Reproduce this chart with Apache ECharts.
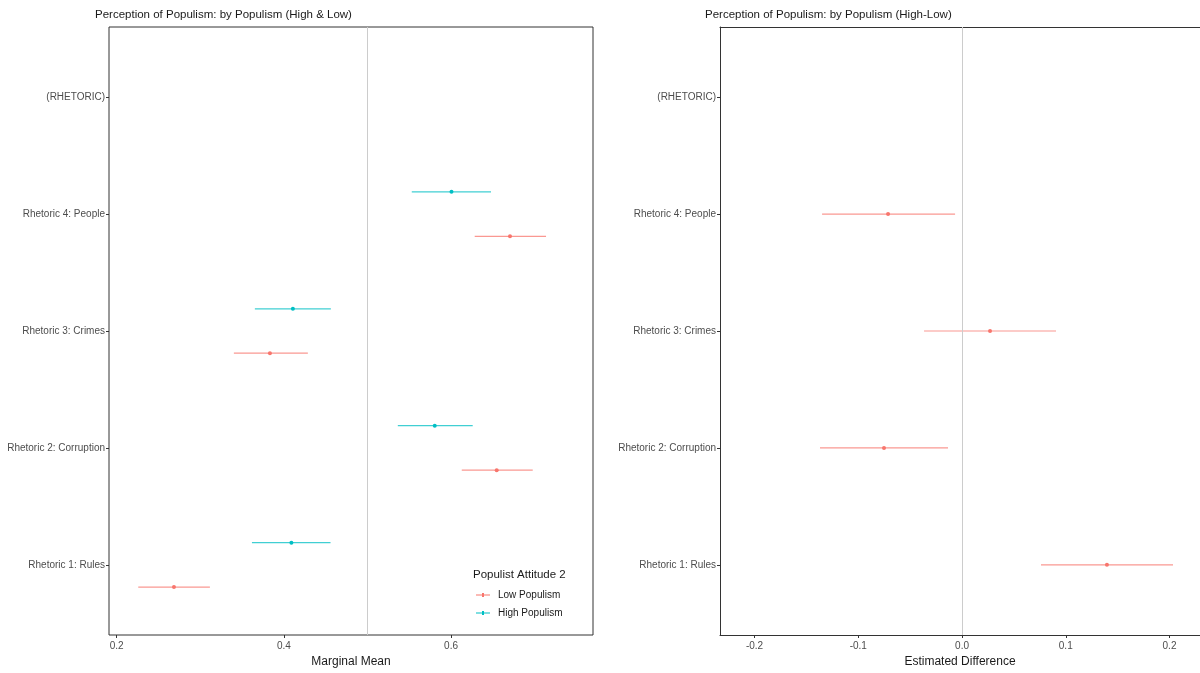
<!DOCTYPE html>
<html><head><meta charset="utf-8">
<script src="https://cdn.jsdelivr.net/npm/echarts@6/dist/echarts.min.js"></script>
<style>html,body{margin:0;padding:0;background:#fff}#c{width:1200px;height:673px}</style>
</head><body><div id="c"></div>
<script>
const categories = ['Rhetoric 1: Rules','Rhetoric 2: Corruption','Rhetoric 3: Crimes','Rhetoric 4: People','(RHETORIC)'];
// Left panel: marginal means
const lowEst  = [0.2685, 0.6546, 0.3833, 0.6705, null];
const lowLo   = [0.2258, 0.6128, 0.3402, 0.6283, null];
const lowHi   = [0.3115, 0.6977, 0.4287, 0.7136, null];
const highEst = [0.4090, 0.5805, 0.4108, 0.6005, null];
const highLo  = [0.3618, 0.5363, 0.3653, 0.5530, null];
const highHi  = [0.4558, 0.6259, 0.4562, 0.6478, null];
// Right panel: difference (High - Low)
const diffEst = [0.1397, -0.0752, 0.0270, -0.0713, null];
const diffLo  = [0.0761, -0.1369, -0.0366, -0.1349, null];
const diffHi  = [0.2034, -0.0135, 0.0906, -0.0067, null];
const leftTicks = [0.2, 0.4, 0.6];
const rightTicks = [-0.2, -0.1, 0.0, 0.1, 0.2];
const leftRef = 0.5, rightRef = 0;
const legendTitle = 'Populist Attitude 2';
const seriesNames = ['Low Populism','High Populism'];

const RED = '#F8766D', TEAL = '#00BFC4';
const dodge = 0.19;

function rows(est, lo, hi, off){
  const out = [];
  est.forEach((v,i)=>{ if(v!==null) out.push([v, lo[i], hi[i], i+1+off]); });
  return out;
}
function renderer(color){
  return function(params, api){
    const y = api.value(3);
    const p = api.coord([api.value(0), y]);
    const a = api.coord([api.value(1), y]);
    const b = api.coord([api.value(2), y]);
    return {type:'group', children:[
      {type:'line', shape:{x1:a[0],y1:a[1],x2:b[0],y2:b[1]}, style:{stroke:color, lineWidth:1.2, opacity:0.75}},
      {type:'circle', shape:{cx:p[0],cy:p[1],r:2}, style:{fill:color}}
    ]};
  };
}
const labelStyle = {color:'#4D4D4D', fontSize:10, fontFamily:'Liberation Sans'};
const borderLine = {show:true, onZero:false, lineStyle:{color:'#333', width:1}};
function yAx(gi, line){
  return {type:'value', gridIndex:gi, min:0.4, max:5.6,
    axisLine: line ? borderLine : {show:false, onZero:false}, splitLine:{show:false},
    axisTick:{show:true, length:3, lineStyle:{color:'#333'}, customValues:[1,2,3,4,5]},
    axisLabel:Object.assign({customValues:[1,2,3,4,5], margin:4, formatter:v=>categories[Math.round(v)-1]}, labelStyle)};
}
function xAx(gi, min, max, ticks, name, line){
  return {type:'value', gridIndex:gi, min:min, max:max, name:name, nameLocation:'middle', nameGap:21,
    nameTextStyle:{color:'#1a1a1a', fontSize:12, fontFamily:'Liberation Sans'},
    axisLine: line ? borderLine : {show:false, onZero:false}, splitLine:{show:false},
    axisTick:{show:true, length:3, lineStyle:{color:'#333'}, customValues:ticks},
    axisLabel:Object.assign({customValues:ticks, margin:6, formatter:v=>(gi===1? v.toFixed(1): String(+v.toFixed(1)))}, labelStyle)};
}
const titleStyle = {fontSize:11.5, fontWeight:'normal', color:'#1a1a1a', fontFamily:'Liberation Sans'};
const chart = echarts.init(document.getElementById('c'));
chart.setOption({
  animation:false,
  title:[
    {text:'Perception of Populism: by Populism (High & Low)', left:95, top:9, padding:0, textStyle:titleStyle},
    {text:'Perception of Populism: by Populism (High-Low)', left:705, top:9, padding:0, textStyle:titleStyle},
    {text:legendTitle, left:473, top:569, padding:0, textStyle:{fontSize:11.5, fontWeight:'normal', color:'#1a1a1a', fontFamily:'Liberation Sans'}}
  ],
  legend:{data:[{name:seriesNames[0], itemStyle:{color:RED}},{name:seriesNames[1], itemStyle:{color:TEAL}}],
    orient:'vertical', left:476, top:590, padding:0, itemGap:8, itemWidth:14, itemHeight:5,
    icon:'path://M0,2 L14,2 L14,3 L0,3 Z M6,0.5 L8,0.5 L8,4.5 L6,4.5 Z',
    textStyle:{fontSize:10, color:'#1a1a1a', fontFamily:'Liberation Sans', padding:[0,0,0,3]}},
  grid:[
    {left:109, top:27, width:484, height:608, show:true, borderColor:'#333', borderWidth:1, containLabel:false},
    {left:720, top:27, width:480, height:608, show:false, containLabel:false}
  ],
  xAxis:[
    xAx(0, 0.1908, 0.7698, leftTicks, 'Marginal Mean', false),
    xAx(1, -0.2333, 0.2294, rightTicks, 'Estimated Difference', true),
    {type:'value', gridIndex:1, position:'top', min:-0.2333, max:0.2294, axisLine:borderLine,
      axisTick:{show:false}, axisLabel:{show:false}, splitLine:{show:false}}
  ],
  yAxis:[yAx(0, false), yAx(1, true)],
  series:[
    {type:'line', xAxisIndex:0, yAxisIndex:0, data:[], silent:true,
      markLine:{silent:true, symbol:'none', label:{show:false}, lineStyle:{color:'#CCCCCC', type:'solid', width:1}, data:[{xAxis:leftRef}]}},
    {type:'line', xAxisIndex:1, yAxisIndex:1, data:[], silent:true,
      markLine:{silent:true, symbol:'none', label:{show:false}, lineStyle:{color:'#CCCCCC', type:'solid', width:1}, data:[{xAxis:rightRef}]}},
    {name:seriesNames[0], type:'custom', xAxisIndex:0, yAxisIndex:0, itemStyle:{color:RED}, renderItem:renderer(RED), data:rows(lowEst,lowLo,lowHi,-dodge), encode:{x:[0,1,2], y:3}},
    {name:seriesNames[1], type:'custom', xAxisIndex:0, yAxisIndex:0, itemStyle:{color:TEAL}, renderItem:renderer(TEAL), data:rows(highEst,highLo,highHi,dodge), encode:{x:[0,1,2], y:3}},
    {name:'diff', type:'custom', xAxisIndex:1, yAxisIndex:1, renderItem:renderer(RED), data:rows(diffEst,diffLo,diffHi,0), encode:{x:[0,1,2], y:3}}
  ]
});
</script></body></html>
